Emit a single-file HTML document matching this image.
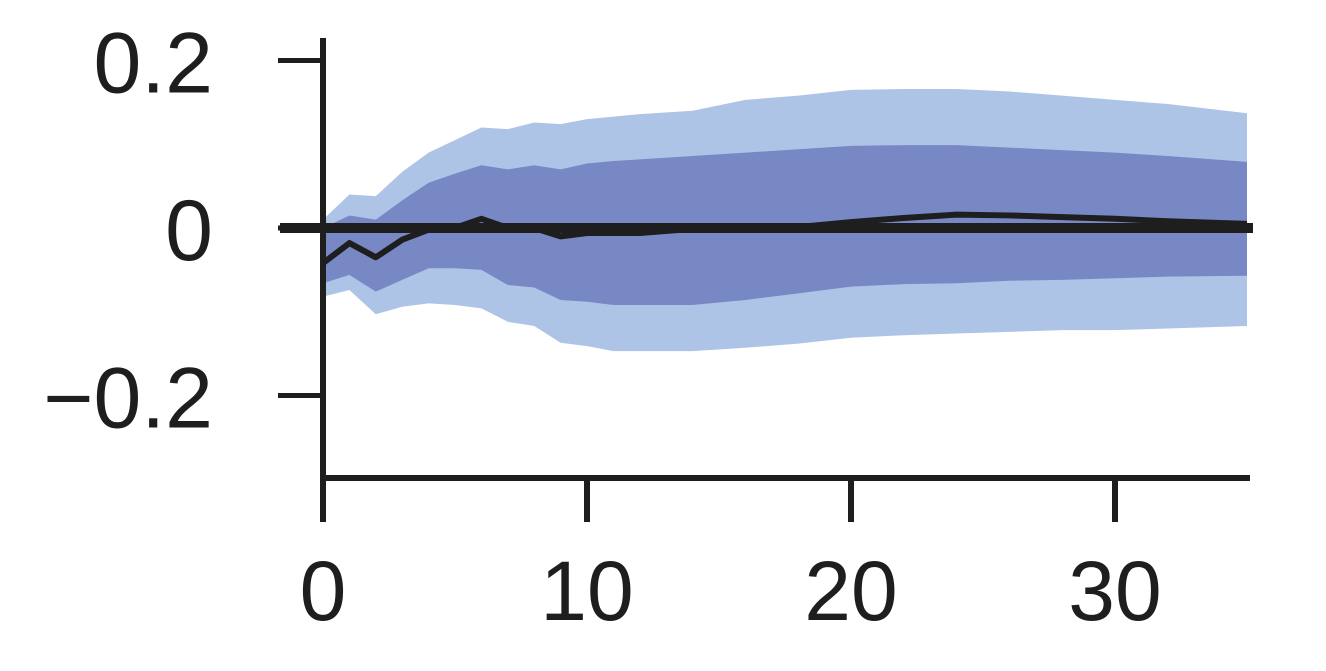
<!DOCTYPE html>
<html><head><meta charset="utf-8"><style>
html,body{margin:0;padding:0;background:#fff;}
svg{display:block;font-family:"Liberation Sans",sans-serif;}
</style></head><body>
<svg id="chart" width="1326" height="671" viewBox="0 0 1326 671">
<g id="bands"></g><g id="axes"></g>
</svg>
<script>
const xs = [0,1,2,3,4,5,6,7,8,9,10,11,12,14,16,18,20,22,24,26,28,30,32,35];
const outerUpper = [0.01,0.04,0.038,0.067,0.09,0.105,0.12,0.118,0.126,0.124,0.13,0.133,0.136,0.14,0.153,0.158,0.165,0.166,0.166,0.163,0.158,0.153,0.148,0.137];
const innerUpper = [0,0.015,0.01,0.033,0.054,0.065,0.075,0.07,0.075,0.07,0.077,0.08,0.082,0.086,0.09,0.094,0.098,0.099,0.099,0.096,0.093,0.09,0.086,0.079];
const innerLower = [-0.066,-0.056,-0.076,-0.062,-0.048,-0.048,-0.05,-0.068,-0.071,-0.086,-0.088,-0.092,-0.092,-0.092,-0.086,-0.078,-0.07,-0.067,-0.066,-0.063,-0.062,-0.06,-0.058,-0.057];
const outerLower = [-0.082,-0.074,-0.103,-0.094,-0.09,-0.092,-0.096,-0.112,-0.117,-0.137,-0.141,-0.147,-0.147,-0.147,-0.143,-0.138,-0.131,-0.128,-0.126,-0.124,-0.122,-0.122,-0.12,-0.117];
const median = [-0.042,-0.018,-0.035,-0.014,-0.002,0,0.011,0,0,-0.01,-0.006,-0.006,-0.006,-0.001,0,0.001,0.007,0.012,0.016,0.015,0.013,0.011,0.008,0.005];
const xTicks = [0,10,20,30];
const yTicks = [0.2,0,-0.2];
const yTickLabels = ["0.2","0","\u22120.2"];

const X = v => 323 + v*26.4;
const Y = v => 228 - v*837.5;
const NS = "http://www.w3.org/2000/svg";
function mk(tag, attrs, parent){const e=document.createElementNS(NS,tag);for(const k in attrs)e.setAttribute(k,attrs[k]);parent.appendChild(e);return e;}
const bands=document.getElementById('bands'), axes=document.getElementById('axes');
function band(up, lo, color, name){
  let d = xs.map((x,i)=>(i?'L':'M')+X(x)+','+Y(up[i])).join('');
  for(let i=xs.length-1;i>=0;i--) d+='L'+X(xs[i])+','+Y(lo[i]);
  const p=mk('path',{d:d+'Z',fill:color},bands);
  
  
}
band(outerUpper, outerLower, '#aec4e6', 'outer-band');
band(innerUpper, innerLower, '#7888c4', 'inner-band');
const z=mk('line',{x1:280,y1:Y(0),x2:1253,y2:Y(0),stroke:'#1e1e1e','stroke-width':10},bands);


const m=mk('polyline',{points:xs.map((x,i)=>X(x)+','+Y(median[i])).join(' '),fill:'none',stroke:'#1e1e1e','stroke-width':6,'stroke-linejoin':'round'},bands);


const ya=mk('line',{x1:323,y1:38,x2:323,y2:480,stroke:'#1e1e1e','stroke-width':6},axes);


const xa=mk('line',{x1:320,y1:478,x2:1250,y2:478,stroke:'#1e1e1e','stroke-width':6},axes);


yTicks.forEach((v,i)=>{
  const t=mk('line',{x1:278,y1:Y(v),x2:323,y2:Y(v),stroke:'#1e1e1e','stroke-width':5},axes);
  
  
  const l=mk('text',{x:213,y:Y(v)+32,'text-anchor':'end','font-size':86,fill:'#1e1e1e'},axes);
  l.textContent=yTickLabels[i];
  
  
});
xTicks.forEach(v=>{
  const t=mk('line',{x1:X(v),y1:478,x2:X(v),y2:522,stroke:'#1e1e1e','stroke-width':6},axes);
  
  
  const l=mk('text',{x:X(v),y:620,'text-anchor':'middle','font-size':84,fill:'#1e1e1e'},axes);
  l.textContent=String(v);
  
  
});
</script>
</body></html>
